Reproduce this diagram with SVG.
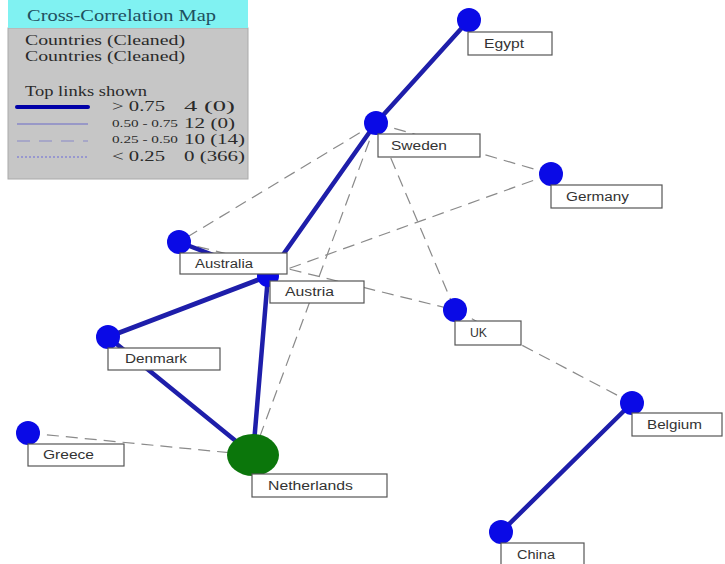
<svg xmlns="http://www.w3.org/2000/svg" width="725" height="564" viewBox="0 0 725 564">
<style>
.thick{stroke:#1e1eaa;stroke-width:4.5;stroke-linecap:round;fill:none}
.dash{stroke:#8a8a8a;stroke-width:1.2;stroke-dasharray:12,7;fill:none}
.node{fill:#0a0ae6}
.box{fill:#fff;stroke:#555;stroke-width:1.2}
.lbl{font-family:"Liberation Sans",Arial,sans-serif;font-size:12.5px;fill:#333}
.lg{font-family:"Liberation Serif","Times New Roman",serif;fill:#2a2a2a}
</style>
<rect width="725" height="564" fill="#fff"/>
<g id="legend">
<rect x="8" y="28" width="240" height="151" fill="#c6c6c6" stroke="#aaa" stroke-width="1"/>
<rect x="8" y="0" width="240" height="28" fill="#80f2f2"/>
<text x="27" y="21" class="lg" font-size="16.5" style="fill:#1f5060" textLength="189" lengthAdjust="spacingAndGlyphs">Cross-Correlation Map</text>
<text x="25" y="45" class="lg" font-size="15.5" textLength="160" lengthAdjust="spacingAndGlyphs">Countries (Cleaned)</text>
<text x="25" y="61" class="lg" font-size="15.5" textLength="160" lengthAdjust="spacingAndGlyphs">Countries (Cleaned)</text>
<text x="25" y="96" class="lg" font-size="15.5" textLength="122" lengthAdjust="spacingAndGlyphs">Top links shown</text>
<line x1="17" y1="107" x2="88" y2="107" stroke="#0000a8" stroke-width="4" stroke-linecap="round"/>
<line x1="17" y1="124" x2="88" y2="124" stroke="#6a6ac8" stroke-width="1"/>
<line x1="17" y1="141" x2="88" y2="141" stroke="#8888c8" stroke-width="1" stroke-dasharray="13,9"/>
<line x1="17" y1="157" x2="88" y2="157" stroke="#6a6ad8" stroke-width="1" stroke-dasharray="2,2"/>
<text x="112" y="111" class="lg" font-size="15" textLength="53" lengthAdjust="spacingAndGlyphs">&gt; 0.75</text>
<text x="112" y="127" class="lg" font-size="11" textLength="66" lengthAdjust="spacingAndGlyphs">0.50 - 0.75</text>
<text x="112" y="143" class="lg" font-size="11" textLength="66" lengthAdjust="spacingAndGlyphs">0.25 - 0.50</text>
<text x="112" y="161" class="lg" font-size="15" textLength="53" lengthAdjust="spacingAndGlyphs">&lt; 0.25</text>
<text x="184" y="111" class="lg" font-size="15" textLength="51" lengthAdjust="spacingAndGlyphs">4 (0)</text>
<text x="184" y="128" class="lg" font-size="15" textLength="51" lengthAdjust="spacingAndGlyphs">12 (0)</text>
<text x="184" y="144" class="lg" font-size="15" textLength="61" lengthAdjust="spacingAndGlyphs">10 (14)</text>
<text x="184" y="161" class="lg" font-size="14" textLength="61" lengthAdjust="spacingAndGlyphs">0 (366)</text>
</g>
<g id="connectors">
<line class="dash" x1="376" y1="123" x2="179" y2="242"/>
<line class="dash" x1="376" y1="123" x2="551" y2="174"/>
<line class="dash" x1="376" y1="123" x2="253" y2="455"/>
<line class="dash" x1="376" y1="123" x2="455" y2="310"/>
<line class="dash" x1="551" y1="174" x2="268" y2="276"/>
<line class="dash" x1="179" y1="242" x2="455" y2="310"/>
<line class="dash" x1="28" y1="433" x2="253" y2="455"/>
<line class="dash" x1="455" y1="310" x2="632" y2="403"/>
<line class="thick" x1="469" y1="20" x2="376" y2="123"/>
<line class="thick" x1="376" y1="123" x2="268" y2="276"/>
<line class="thick" x1="179" y1="242" x2="268" y2="276"/>
<line class="thick" x1="108" y1="337" x2="268" y2="276" style="stroke-width:5"/>
<line class="thick" x1="268" y1="276" x2="253" y2="455"/>
<line class="thick" x1="108" y1="337" x2="253" y2="455"/>
<line class="thick" x1="632" y1="403" x2="501" y2="532"/>
</g>
<g id="n-austria"><circle class="node" cx="268" cy="276" r="11"/><rect class="box" x="270" y="281" width="94" height="22"/><text class="lbl" x="285" y="296" textLength="49" lengthAdjust="spacingAndGlyphs">Austria</text></g>
<g id="n-egypt"><circle class="node" cx="469" cy="20" r="12"/><rect class="box" x="468" y="32" width="84" height="23"/><text class="lbl" x="484" y="48" textLength="40" lengthAdjust="spacingAndGlyphs">Egypt</text></g>
<g id="n-sweden"><circle class="node" cx="376" cy="123" r="12"/><rect class="box" x="378" y="134" width="102" height="23"/><text class="lbl" x="391" y="150" textLength="56" lengthAdjust="spacingAndGlyphs">Sweden</text></g>
<g id="n-germany"><circle class="node" cx="551" cy="174" r="12"/><rect class="box" x="551" y="185" width="111" height="23"/><text class="lbl" x="566" y="201" textLength="63" lengthAdjust="spacingAndGlyphs">Germany</text></g>
<g id="n-australia"><circle class="node" cx="179" cy="242" r="12"/><rect class="box" x="180" y="253" width="107" height="21"/><text class="lbl" x="195" y="268" textLength="58" lengthAdjust="spacingAndGlyphs">Australia</text></g>
<g id="n-uk"><circle class="node" cx="455" cy="310" r="12"/><rect class="box" x="455" y="321" width="66" height="24"/><text class="lbl" x="470" y="337" textLength="17" lengthAdjust="spacingAndGlyphs">UK</text></g>
<g id="n-denmark"><circle class="node" cx="108" cy="337" r="12"/><rect class="box" x="108" y="348" width="112" height="22"/><text class="lbl" x="125" y="363" textLength="62" lengthAdjust="spacingAndGlyphs">Denmark</text></g>
<g id="n-greece"><circle class="node" cx="28" cy="433" r="12"/><rect class="box" x="28" y="444" width="96" height="22"/><text class="lbl" x="43" y="459" textLength="51" lengthAdjust="spacingAndGlyphs">Greece</text></g>
<g id="n-netherlands"><ellipse cx="253" cy="455" rx="26" ry="21" fill="#0b760b"/><rect class="box" x="252" y="474" width="135" height="23"/><text class="lbl" x="268" y="490" textLength="85" lengthAdjust="spacingAndGlyphs">Netherlands</text></g>
<g id="n-belgium"><circle class="node" cx="632" cy="403" r="12"/><rect class="box" x="632" y="413" width="90" height="23"/><text class="lbl" x="647" y="429" textLength="55" lengthAdjust="spacingAndGlyphs">Belgium</text></g>
<g id="n-china"><circle class="node" cx="501" cy="532" r="12"/><rect class="box" x="501" y="543" width="83" height="23"/><text class="lbl" x="517" y="559" textLength="38" lengthAdjust="spacingAndGlyphs">China</text></g>
</svg>
